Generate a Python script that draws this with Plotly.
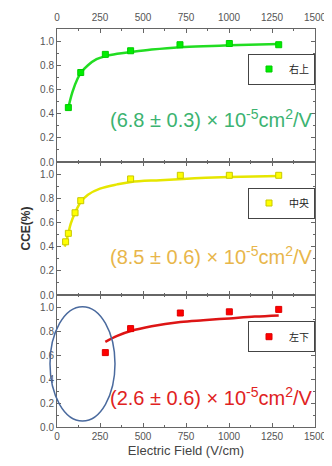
import plotly.graph_objects as go

# ---- data ----
top_x = [66, 138, 281, 428, 715, 1002, 1289]
top_y = [0.45, 0.74, 0.89, 0.92, 0.97, 0.98, 0.97]
top_fit_x = [66, 90, 120, 140, 180, 230, 281, 350, 430, 550, 715, 900, 1000, 1289]
top_fit_y = [0.45, 0.58, 0.69, 0.74, 0.80, 0.85, 0.875, 0.895, 0.91, 0.93, 0.95, 0.96, 0.965, 0.975]

mid_x = [50, 66, 105, 138, 428, 717, 1002, 1289]
mid_y = [0.44, 0.51, 0.68, 0.78, 0.96, 0.99, 0.99, 0.99]
mid_fit_x = [45, 55, 66, 80, 105, 138, 180, 250, 350, 430, 600, 800, 1000, 1289]
mid_fit_y = [0.40, 0.45, 0.51, 0.59, 0.68, 0.77, 0.83, 0.88, 0.915, 0.935, 0.95, 0.965, 0.975, 0.985]

bot_x = [281, 428, 717, 1002, 1289]
bot_y = [0.62, 0.82, 0.95, 0.96, 0.98]
bot_fit_x = [281, 350, 428, 550, 717, 850, 1002, 1150, 1289]
bot_fit_y = [0.71, 0.76, 0.80, 0.84, 0.875, 0.89, 0.905, 0.92, 0.93]

labels = ["右上", "中央", "左下"]
mobility = ["(6.8 ± 0.3) × 10<sup>-5</sup>cm<sup>2</sup>/V",
            "(8.5 ± 0.6) × 10<sup>-5</sup>cm<sup>2</sup>/V",
            "(2.6 ± 0.6) × 10<sup>-5</sup>cm<sup>2</sup>/V"]
x_ticks = [0, 250, 500, 750, 1000, 1250, 1500]
y_ticks = [0.0, 0.2, 0.4, 0.6, 0.8, 1.0]

# ---- styling ----
OFF = 8  # page body margin
W, H = 332 - OFF, 466 - OFF
L, T = 57 - OFF, 29 - OFF
pw, ph = 258, 398
R = W - L - pw
B = H - T - ph
d_top = [(427 - 162) / ph, 1.0]
d_mid = [(427 - 295) / ph, (427 - 162) / ph]
d_bot = [0.0, (427 - 295) / ph]

marker_colors = ["#00ee00", "#ffff00", "#ff0000"]
marker_lines = ["#00cc00", "#c8c800", "#dd0000"]
line_colors = ["#22dd22", "#e6e600", "#dd1515"]
text_colors = ["#3cb371", "#e8b64a", "#e02222"]
FONT = "Liberation Sans, Arial, sans-serif"
CJK = "Noto Sans CJK JP, Liberation Sans, sans-serif"

fig = go.Figure()
sets = [
    (top_x, top_y, top_fit_x, top_fit_y, "y", "legend"),
    (mid_x, mid_y, mid_fit_x, mid_fit_y, "y2", "legend2"),
    (bot_x, bot_y, bot_fit_x, bot_fit_y, "y3", "legend3"),
]
for i, (px, py, fx, fy, ya, lg) in enumerate(sets):
    xa = "x" if i == 0 else ("x2" if i == 1 else "x3")
    fig.add_trace(go.Scatter(x=fx, y=fy, mode="lines", line=dict(color=line_colors[i], width=2.5, shape="spline"),
                             xaxis=xa, yaxis=ya, showlegend=False, hoverinfo="skip"))
    fig.add_trace(go.Scatter(x=px, y=py, mode="markers", name=labels[i],
                             marker=dict(symbol="square", size=6, color=marker_colors[i],
                                         line=dict(color=marker_lines[i], width=1)),
                             xaxis=xa, yaxis=ya, legend=lg))

axis_common = dict(range=[0, 1500], tickvals=x_ticks, showline=True, linecolor="#666", linewidth=1,
                   mirror="allticks", ticks="inside", ticklen=4, tickcolor="#666",
                   minor=dict(ticks="inside", ticklen=2, dtick=125, tickcolor="#666"),
                   tickfont=dict(family=FONT, size=10, color="#555"), showgrid=False, zeroline=False,
                   automargin=False)
yaxis_common = dict(range=[0, 1.1], tickvals=y_ticks, ticktext=["0.0", "0.2", "0.4", "0.6", "0.8", "1.0"],
                    showline=True, linecolor="#666", linewidth=1, mirror="allticks", ticks="inside",
                    ticklen=4, tickcolor="#666",
                    minor=dict(ticks="inside", ticklen=2, dtick=0.1, tickcolor="#666"),
                    tickfont=dict(family=FONT, size=10, color="#555"), showgrid=False, zeroline=False,
                    automargin=False)

fig.update_layout(
    width=W, height=H, margin=dict(l=L, r=R, t=T, b=B, autoexpand=False),
    paper_bgcolor="white", plot_bgcolor="white",
    xaxis=dict(**axis_common, domain=[0, 1], anchor="y", side="top", showticklabels=True,
               ticklabelstandoff=3),
    xaxis2=dict(**axis_common, domain=[0, 1], anchor="y2", showticklabels=False, matches="x"),
    xaxis3=dict(**axis_common, domain=[0, 1], anchor="y3", showticklabels=True, matches="x",
                title=dict(text="Electric Field (V/cm)", font=dict(family=FONT, size=13, color="#444"), standoff=4)),
    yaxis=dict(**yaxis_common, domain=d_top, anchor="x"),
    yaxis2=dict(**yaxis_common, domain=d_mid, anchor="x2",
                title=dict(text="<b>CCE(%)</b>", font=dict(family=FONT, size=12, color="#333"), standoff=6)),
    yaxis3=dict(**yaxis_common, domain=d_bot, anchor="x3"),
    font=dict(family=FONT),
)

leg_common = dict(xref="paper", yref="paper", x=1.0, xanchor="right", yanchor="middle",
                  bgcolor="white", bordercolor="#444", borderwidth=1,
                  font=dict(family=CJK, size=10, color="#222"), itemwidth=30,
                  tracegroupgap=0)
fig.update_layout(
    legend=dict(**leg_common, y=(427 - 69) / ph),
    legend2=dict(**leg_common, y=(427 - 203) / ph),
    legend3=dict(**leg_common, y=(427 - 336.7) / ph),
)

ann_y = [(427 - 118) / ph, (427 - 255) / ph, (427 - 396.7) / ph]
for i in range(3):
    fig.add_annotation(text=mobility[i], xref="paper", yref="paper", x=1.0, y=ann_y[i],
                       xanchor="right", yanchor="middle", showarrow=False,
                       font=dict(family=FONT, size=20, color=text_colors[i]))

# ellipse highlighting missing low-field points
fig.add_shape(type="circle", xref="paper", yref="paper",
              x0=(50 - 57) / pw, x1=(115 - 57) / pw,
              y0=(427 - 421) / ph, y1=(427 - 306.7) / ph,
              line=dict(color="#4a6a9e", width=1.5))

fig.write_html("out.html")
